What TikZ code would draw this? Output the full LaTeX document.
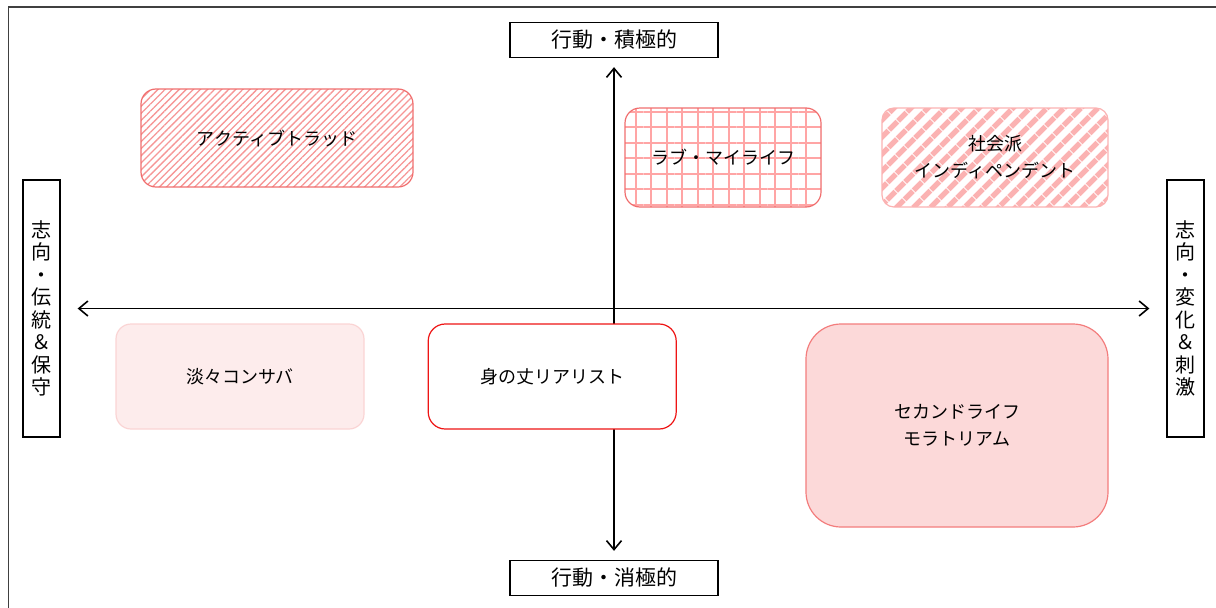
\documentclass[tikz,border=0pt]{standalone}
\usepackage{fontspec}
\newfontfamily\jpfont{Noto Sans CJK JP}
\usepackage{tikz}
\usetikzlibrary{positioning}
\usetikzlibrary{arrows.meta,patterns.meta}

\definecolor{hatchred}{RGB}{240,110,110}
\definecolor{hatchlight}{RGB}{246,150,150}
\definecolor{gridred}{RGB}{255,165,165}
\definecolor{stripered}{RGB}{251,178,178}
\definecolor{paleline}{RGB}{250,212,212}
\definecolor{palefill}{RGB}{253,236,236}
\definecolor{deepred}{RGB}{238,20,20}
\definecolor{rosefill}{RGB}{252,217,217}
\definecolor{roseline}{RGB}{243,125,125}

\tikzset{
  axislabel/.style={draw,line width=1.3pt,inner sep=0pt,minimum width=208pt,minimum height=35pt,
    font=\jpfont\fontsize{21}{23}\selectfont},
  sidelabel/.style={draw,line width=1.3pt,inner sep=0pt,align=center,minimum width=37pt,minimum height=257pt,
    font=\jpfont\fontsize{20}{22.5}\selectfont},
  typebox/.style={rounded corners=15pt,line width=1.2pt,inner sep=0pt,align=center,
    font=\jpfont\fontsize{18}{27}\selectfont},
}

\begin{document}
\begin{tikzpicture}[x=1pt,y=-1pt,>={Straight Barb[length=9pt,width=15pt]}]
\useasboundingbox (0,0) rectangle (1216,608);
\draw[line width=1.5pt,black!75] (8.5,608) -- (8.5,7) -- (1216,7);

% axes
\path node[axislabel] (up) at (614,40) {行動・積極的};
\path node[axislabel] (down) at (614,578) {行動・消極的};
\path node[sidelabel] (trad) at (41.5,308.5) {志\\向\\・\\伝\\統\\＆\\保\\守};
\path node[sidelabel] (chg) at (1185.5,308.5) {志\\向\\・\\変\\化\\＆\\刺\\激};
\path[<->,draw,line width=1.6pt,shorten <=9pt,shorten >=9pt] (up) -- (down);
\path[<->,draw,line width=1.6pt,shorten <=17pt,shorten >=17pt] (trad) -- (chg);

% types
\path node[typebox,draw=hatchred,minimum width=272pt,minimum height=98pt,
  pattern={Lines[angle=45,distance=5pt,line width=1.3pt]},pattern color=hatchlight] (active) at (277,138) {アクティブトラッド};
\path node[typebox,draw=hatchred,minimum width=196pt,minimum height=99pt,
  pattern={Hatch[angle=0,distance=15.5pt,line width=2pt]},pattern color=gridred] (love) at (723,157.5) {ラブ・マイライフ};
\path node[typebox,rounded corners=12pt,draw=stripered,minimum width=226pt,minimum height=99pt,
  pattern={Lines[angle=45,distance=13pt,line width=6pt]},pattern color=stripered] (social) at (995,157.5) {社会派\\インディペンデント};
\path node[typebox,draw=paleline,fill=palefill,minimum width=248pt,minimum height=105pt] (tantan) at (240,376.5) {淡々コンサバ};
\path node[typebox,rounded corners=17pt,draw=deepred,fill=white,minimum width=248pt,minimum height=105pt,right=63pt of tantan] (real) {身の丈リアリスト};
\path node[typebox,rounded corners=35pt,draw=roseline,fill=rosefill,minimum width=302pt,minimum height=203pt] (second) at (957,425.5) {セカンドライフ\\モラトリアム};
\end{tikzpicture}
\end{document}
